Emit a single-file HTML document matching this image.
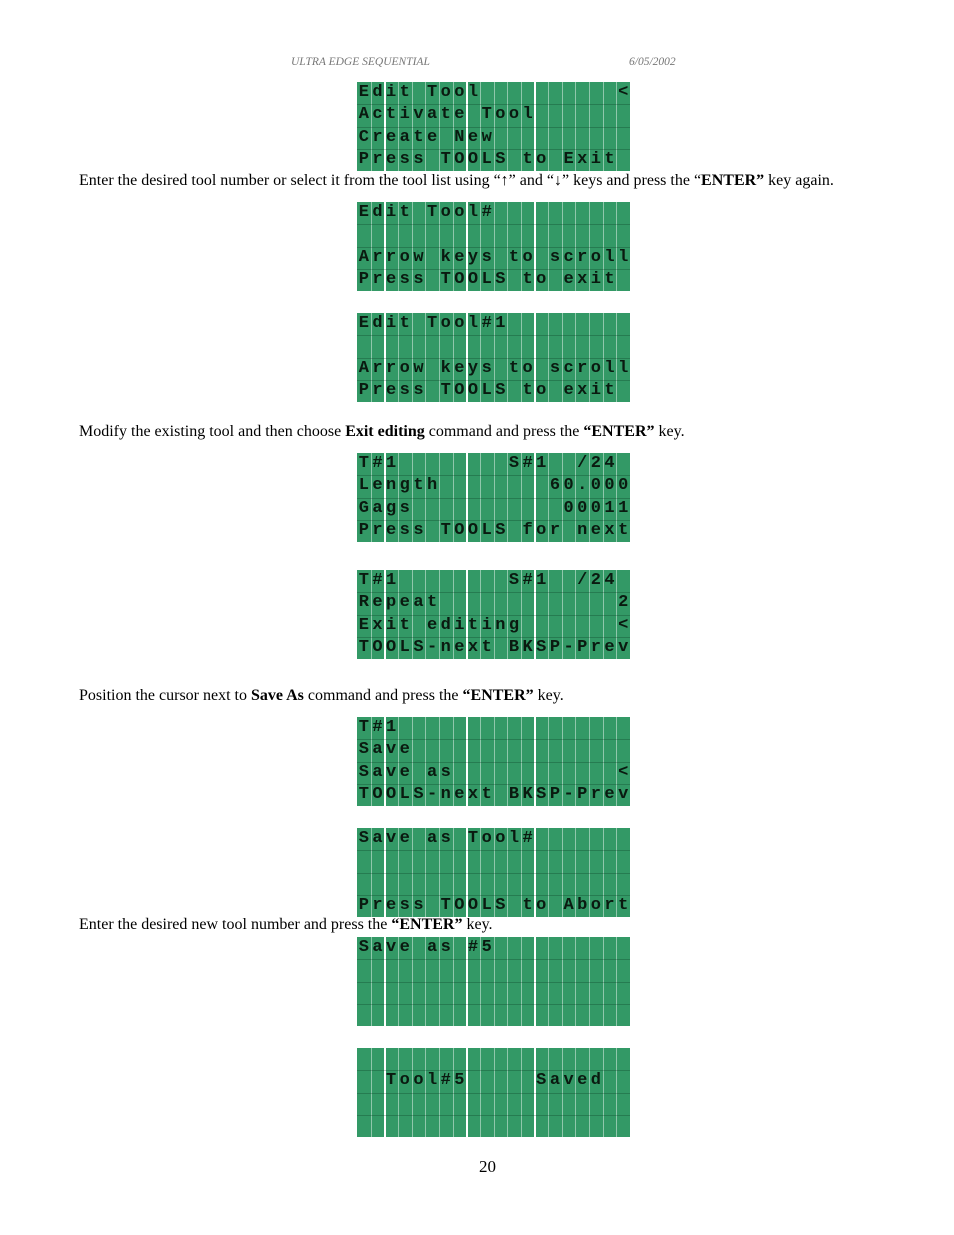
<!DOCTYPE html>
<html><head><meta charset="utf-8">
<style>
body{margin:0;background:#fff;}
#page{position:relative;width:954px;height:1235px;overflow:hidden;background:#fff;font-family:"Liberation Serif",serif;}
.txt{position:absolute;left:79px;font-size:16px;color:#000;white-space:nowrap;}
.hdr{position:absolute;top:56px;font-size:11.5px;font-style:italic;color:#777;}
.lcd{position:absolute;left:357px;width:273px;height:89px;background:#339966;overflow:hidden;}
.vl{position:absolute;top:0;width:1px;height:89px;background:rgba(255,255,255,0.45);}
.vl.w{background:#fff;width:1.5px;}
.hl{position:absolute;left:0;width:273px;height:1px;background:rgba(0,40,20,0.25);}
.row{position:absolute;left:0;height:22px;white-space:pre;}
.ch{position:absolute;width:13.65px;text-align:center;font-family:"Liberation Mono",monospace;font-weight:bold;font-size:17px;line-height:22px;color:#0a1a10;}
</style></head><body>
<div id="page">
<div class="hdr" style="left:291px">ULTRA EDGE SEQUENTIAL</div>
<div class="hdr" style="left:629px">6/05/2002</div>
<div class="txt" style="top:172px">Enter the desired tool number or select it from the tool list using “↑” and “↓” keys and press the “<b>ENTER”</b> key again.</div>
<div class="txt" style="top:423px">Modify the existing tool and then choose <b>Exit editing</b> command and press the <b>“ENTER”</b> key.</div>
<div class="txt" style="top:687px">Position the cursor next to <b>Save As</b> command and press the <b>“ENTER”</b> key.</div>
<div class="txt" style="top:916px">Enter the desired new tool number and press the <b>“ENTER”</b> key.</div>
<div class="txt" style="top:1157px;left:479px;font-size:17px">20</div>
</div>
<script>
const lcdTops=[82,202,313,453,570,717,828,937,1048];
const lcdLines=[
["Edit Tool          <","Activate Tool","Create New","Press TOOLS to Exit"],
["Edit Tool#","","Arrow keys to scroll","Press TOOLS to exit"],
["Edit Tool#1","","Arrow keys to scroll","Press TOOLS to exit"],
["T#1        S#1  /24","Length        60.000","Gags           00011","Press TOOLS for next"],
["T#1        S#1  /24","Repeat             2","Exit editing       <","TOOLS-next BKSP-Prev"],
["T#1","Save","Save as            <","TOOLS-next BKSP-Prev"],
["Save as Tool#","","","Press TOOLS to Abort"],
["Save as #5","","",""],
["","  Tool#5     Saved","",""]
];
const page=document.getElementById('page');
const cw=13.65, rh=22.25;
lcdTops.forEach((top,i)=>{
  const d=document.createElement('div');
  d.className='lcd';d.style.top=top+'px';
  
  
  for(let c=1;c<20;c++){
    const v=document.createElement('div');
    v.className='vl'+((c==2||c==8||c==13)?' w':'');
    v.style.left=(c*cw)+'px';
    d.appendChild(v);
  }
  for(let r=1;r<4;r++){
    const h=document.createElement('div');h.className='hl';h.style.top=(r*rh)+'px';d.appendChild(h);
  }
  lcdLines[i].forEach((s,r)=>{
    const row=document.createElement('div');
    row.className='row';row.style.top=(r*rh)+'px';
    
    
    for(let k=0;k<s.length;k++){
      if(s[k]===' ')continue;
      const sp=document.createElement('span');
      sp.className='ch';sp.style.left=(k*cw)+'px';sp.textContent=s[k];
      row.appendChild(sp);
    }
    d.appendChild(row);
  });
  page.appendChild(d);
});
</script>
</body></html>
